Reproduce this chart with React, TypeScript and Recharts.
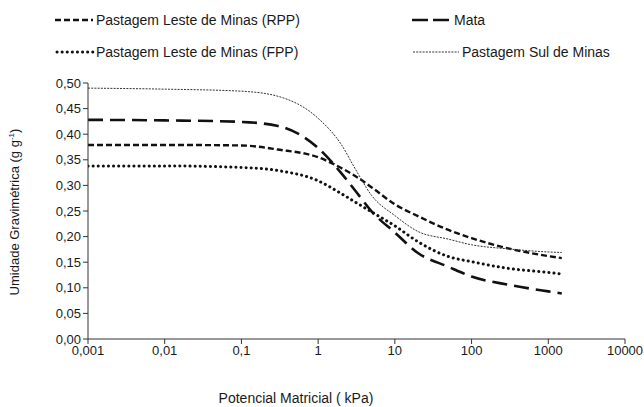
import { LineChart, Line, XAxis, YAxis, Label } from 'recharts'

// potencial matricial (kPa)
const potencial = [0.001, 0.01, 0.1, 0.3, 1, 2, 3, 5, 10, 20, 50, 100, 300, 1000, 1500]

const rpp = [0.379, 0.379, 0.378, 0.37, 0.355, 0.334, 0.319, 0.296, 0.263, 0.24, 0.213, 0.197, 0.177, 0.162, 0.158]
const fpp = [0.338, 0.338, 0.335, 0.329, 0.309, 0.284, 0.268, 0.248, 0.221, 0.19, 0.161, 0.151, 0.138, 0.13, 0.127]
const mata = [0.428, 0.427, 0.424, 0.416, 0.373, 0.324, 0.291, 0.249, 0.208, 0.168, 0.141, 0.122, 0.106, 0.093, 0.089]
const sul = [0.49, 0.488, 0.484, 0.474, 0.431, 0.38, 0.334, 0.28, 0.241, 0.21, 0.195, 0.184, 0.176, 0.17, 0.169]

const xTicks = [0.001, 0.01, 0.1, 1, 10, 100, 1000, 10000]
const yTicks = [0, 0.05, 0.1, 0.15, 0.2, 0.25, 0.3, 0.35, 0.4, 0.45, 0.5]

const data = potencial.map((p, i) => ({ p, rpp: rpp[i], fpp: fpp[i], mata: mata[i], sul: sul[i] }))

const font = '"Liberation Sans", Arial, sans-serif'
const ink = '#1a1a1a'

const series = [
  { key: 'rpp', name: 'Pastagem Leste de Minas (RPP)', dash: '6 3', width: 2.4, cap: 'butt', color: '#111' },
  { key: 'mata', name: 'Mata', dash: '15 7', width: 2.6, cap: 'butt', color: '#111' },
  { key: 'fpp', name: 'Pastagem Leste de Minas (FPP)', dash: '0.1 5', width: 3, cap: 'round', color: '#111' },
  { key: 'sul', name: 'Pastagem Sul de Minas', dash: '2 1.2', width: 1, cap: 'butt', color: '#333' },
]

const legendPos: Record<string, { x: number; y: number; w: number }> = {
  rpp: { x: 55, y: 20, w: 38 },
  mata: { x: 412, y: 20, w: 39 },
  fpp: { x: 57, y: 52, w: 36 },
  sul: { x: 413, y: 52, w: 46 },
}

const fmt = (v: number) => String(v).replace('.', ',')
const fmtY = (v: number) => v.toFixed(2).replace('.', ',')

function YTitle() {
  return (
    <text x={19} y={212} transform="rotate(-90 19 212)" textAnchor="middle" fontFamily={font} fontSize={13} fill={ink}>
      Umidade Gravimétrica  (g g<tspan dy={-5} fontSize={8}>-1</tspan><tspan dy={5}>)</tspan>
    </text>
  )
}

function XTitle() {
  return (
    <text x={296} y={403} textAnchor="middle" fontFamily={font} fontSize={14} fill={ink}>
      Potencial Matricial ( kPa)
    </text>
  )
}

export default function App() {
  return (
    <div style={{ position: 'absolute', left: 0, top: 0, width: 644, height: 407, background: '#fff' }}>
      <LineChart width={644} height={407} data={data} margin={{ top: 83, right: 19, left: 0, bottom: 38 }}>
        <XAxis
          dataKey="p"
          type="number"
          scale="log"
          domain={[0.001, 10000]}
          ticks={xTicks}
          tickFormatter={fmt}
          allowDataOverflow
          height={30}
          stroke="#333"
          tick={{ fill: ink, fontSize: 13, fontFamily: font }}
          tickSize={5}
        >
          <Label content={<XTitle />} />
        </XAxis>
        <YAxis
          type="number"
          domain={[0, 0.5]}
          ticks={yTicks}
          tickFormatter={fmtY}
          width={88}
          stroke="#333"
          tick={{ fill: ink, fontSize: 13, fontFamily: font }}
          tickSize={5}
        >
          <Label content={<YTitle />} />
        </YAxis>
        {series.map((s) => (
          <Line
            key={s.key}
            type="monotone"
            dataKey={s.key}
            name={s.name}
            stroke={s.color}
            strokeWidth={s.width}
            strokeDasharray={s.dash}
            strokeLinecap={s.cap as any}
            dot={false}
            isAnimationActive={false}
          />
        ))}
      </LineChart>
      <svg width={644} height={70} style={{ position: 'absolute', left: 0, top: 0 }}>
        {series.map((s) => {
          const p = legendPos[s.key]
          return (
            <g key={s.key}>
              <line
                x1={p.x}
                x2={p.x + p.w}
                y1={p.y}
                y2={p.y}
                stroke={s.color}
                strokeWidth={s.width}
                strokeDasharray={s.key === 'mata' ? '16 5' : s.dash}
                strokeLinecap={s.cap as any}
              />
              <text x={p.x + p.w + 3} y={p.y + 5} fontFamily={font} fontSize={14} fill={ink}>
                {s.name}
              </text>
            </g>
          )
        })}
      </svg>
    </div>
  )
}
